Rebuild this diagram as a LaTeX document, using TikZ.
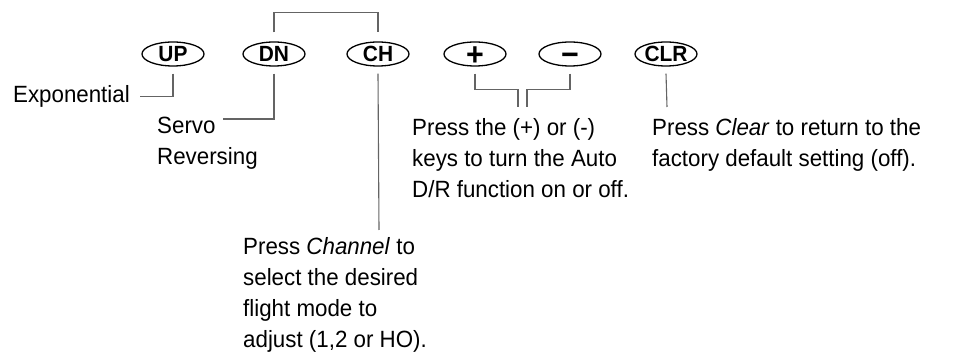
\documentclass[tikz,border=0pt]{standalone}
\usepackage{fontspec}
\setmainfont{Liberation Sans}[FakeStretch=0.95]
\usetikzlibrary{positioning,shapes.geometric}
\definecolor{leadGray}{RGB}{100,100,100}
\newcommand{\keysign}[1]{\smash{\raisebox{-0.353em}{#1}}}
\tikzset{
  keyoval/.style={draw=black, line width=1.3pt, ellipse, inner sep=0pt, minimum width=62pt, minimum height=24pt, font=\fontsize{22}{22}\selectfont\bfseries},
  signoval/.style={keyoval, font=\fontsize{32}{32}\selectfont\bfseries},
  note/.style={align=left, inner sep=0pt, anchor=base west, font=\fontsize{23.5}{31.3}\selectfont},
  lead/.style={draw=leadGray, line width=1.1pt}
}

\begin{document}
\begin{tikzpicture}[x=1pt,y=-1pt]
        \useasboundingbox (0,0) rectangle (956,352);
        % keys
        \node[keyoval] (up) at (173,54) {UP};
        \node[keyoval] (dn) at (274,54) {DN};
        \node[keyoval] (ch) at (378,54) {CH};
        \node[signoval] (plus) at (475,54) {\keysign{+}};
        \node[signoval] (minus) at (570,54) {\keysign{−}};
        \node[keyoval] (clr) at (666,54) {CLR};
        % notes (base = last line)
        \node[note, anchor=base east] (expo) at (130,103) {Exponential};
        \node[note] (servo) at (157,165) {Servo\\Reversing};
        \node[note] (chtext) at (243,348) {Press \textit{Channel} to\\select the desired\\flight mode to\\adjust (1,2 or HO).};
        \node[note] (pmtext) at (412,198) {Press the (+) or (-)\\keys to turn the Auto\\D/R function on or off.};
        \node[note] (clrtext) at (652,167) {Press \textit{Clear} to return to the\\factory default setting (off).};
        \coordinate (servotip) at (223,119);
        \coordinate (chtip) at (379,230);
        \coordinate (pmtipA) at (518,107);
        \coordinate (pmtipB) at (527,107);
        \coordinate (clrtip) at (667,107);
        % leads
        \draw[lead] ([yshift=9pt]dn.north) -- ++(0,-20) -| ([yshift=9pt]ch.north);
        \draw[lead] ([yshift=-7pt]up.south) |- ([xshift=10pt]expo.east);
        \draw[lead] ([yshift=-7pt]dn.south) |- (servotip);
        \draw[lead] ([yshift=-7pt]ch.south) -- (chtip);
        \draw[lead] ([yshift=-7pt]plus.south) -- ++(0,16) -| (pmtipA);
        \draw[lead] ([yshift=-7pt]minus.south) -- ++(0,16) -| (pmtipB);
        \draw[lead] ([yshift=-7pt]clr.south) -- (clrtip);
      \end{tikzpicture}
\end{document}
